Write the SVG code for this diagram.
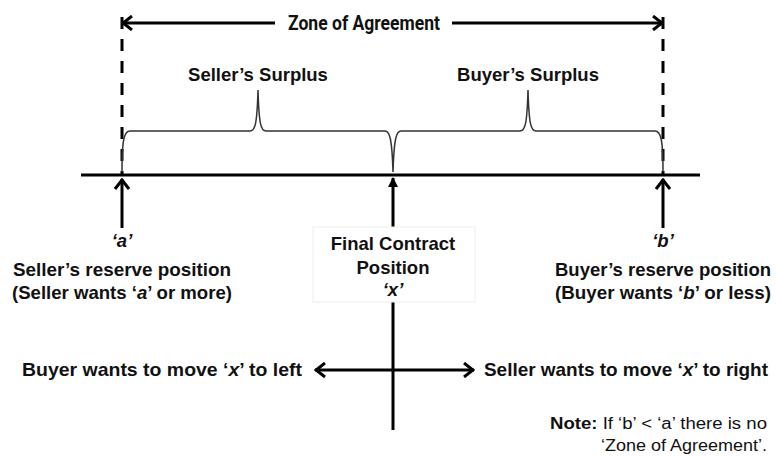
<svg xmlns="http://www.w3.org/2000/svg" width="776" height="457" viewBox="0 0 776 457">
<style>
.lbl{font-family:"Liberation Sans",Arial,sans-serif;font-weight:bold;font-size:18.5px;fill:#111;text-anchor:middle}
.zone{font-family:Roboto,"Liberation Sans",sans-serif;font-weight:bold;font-size:20px;fill:#111;text-anchor:middle}
.note{font-family:"Liberation Sans",Arial,sans-serif;font-size:16px;fill:#111;text-anchor:end}
.ln{stroke:#000;stroke-width:3;fill:none}
.dash{stroke:#000;stroke-width:3;stroke-dasharray:12 10;fill:none}
.brace{stroke:#333;stroke-width:1.5;fill:none}
</style>
<defs>
<marker id="chev" viewBox="0 0 12 16" refX="11" refY="8" markerWidth="12" markerHeight="16" markerUnits="userSpaceOnUse" orient="auto-start-reverse">
<path d="M1,1 L10,8 L1,15" fill="none" stroke="#000" stroke-width="3"/>
</marker>
<marker id="tri" viewBox="0 0 10 10" refX="9" refY="5" markerWidth="10" markerHeight="10" markerUnits="userSpaceOnUse" orient="auto">
<path d="M0,0 L10,5 L0,10 Z" fill="#000"/>
</marker>
</defs>
<rect width="776" height="457" fill="#fff"/>
<g id="connectors">
<line class="ln" x1="81" y1="175" x2="700" y2="175"/>
<line class="dash" x1="122" y1="17" x2="122" y2="174"/>
<line class="dash" x1="663" y1="17" x2="663" y2="174"/>
<line class="ln" x1="122" y1="23" x2="275" y2="23" marker-start="url(#chev)"/>
<line class="ln" x1="452" y1="23" x2="663" y2="23" marker-end="url(#chev)"/>
<line class="ln" x1="122" y1="228" x2="122" y2="179" marker-end="url(#chev)"/>
<line class="ln" x1="663" y1="228" x2="663" y2="179" marker-end="url(#chev)"/>
<line class="ln" x1="393" y1="227" x2="393" y2="178" marker-end="url(#tri)"/>
<line class="ln" x1="393" y1="302" x2="393" y2="430"/>
<line class="ln" x1="315" y1="370" x2="474" y2="370" marker-start="url(#chev)" marker-end="url(#chev)"/>
<path class="brace" d="M122,172 C122,140 124,131 130,131 L250,131 C255,131 257,125 258,90 C259,125 261,131 266,131 L385,131 C390,131 392,140 393,172 C394,140 396,131 401,131 L520,131 C525,131 527,125 528,90 C529,125 531,131 536,131 L655,131 C661,131 663,140 663,172"/>
</g>
<g id="zone">
<text class="zone" x="364" y="30" textLength="152" lengthAdjust="spacingAndGlyphs">Zone of Agreement</text>
</g>
<g id="seller-surplus">
<text class="lbl" x="258" y="81">Seller’s Surplus</text>
</g>
<g id="buyer-surplus">
<text class="lbl" x="528" y="81">Buyer’s Surplus</text>
</g>
<g id="seller-reserve">
<text class="lbl" x="122" y="247" font-style="italic">‘a’</text>
<text class="lbl" x="122" y="276" textLength="218" lengthAdjust="spacingAndGlyphs">Seller’s reserve position</text>
<text class="lbl" x="122" y="299" textLength="220" lengthAdjust="spacingAndGlyphs">(Seller wants ‘<tspan font-style="italic">a</tspan>’ or more)</text>
</g>
<g id="final-contract">
<rect x="313" y="227" width="162" height="75" fill="#fff" stroke="#eee" stroke-width="1"/>
<text class="lbl" x="393" y="250">Final Contract</text>
<text class="lbl" x="393" y="274">Position</text>
<text class="lbl" x="393" y="296" font-style="italic">‘x’</text>
</g>
<g id="buyer-reserve">
<text class="lbl" x="663" y="247" font-style="italic">‘b’</text>
<text class="lbl" x="663" y="276" textLength="216" lengthAdjust="spacingAndGlyphs">Buyer’s reserve position</text>
<text class="lbl" x="663" y="299" textLength="216" lengthAdjust="spacingAndGlyphs">(Buyer wants ‘<tspan font-style="italic">b</tspan>’ or less)</text>
</g>
<g id="buyer-move">
<text class="lbl" x="22" y="376" style="text-anchor:start" textLength="280" lengthAdjust="spacingAndGlyphs">Buyer wants to move ‘<tspan font-style="italic">x</tspan>’ to left</text>
</g>
<g id="seller-move">
<text class="lbl" x="484" y="376" style="text-anchor:start" textLength="284" lengthAdjust="spacingAndGlyphs">Seller wants to move ‘<tspan font-style="italic">x</tspan>’ to right</text>
</g>
<g id="note">
<text class="note" x="550" y="429" style="text-anchor:start" textLength="217" lengthAdjust="spacingAndGlyphs"><tspan font-weight="bold">Note:</tspan> If ‘b’ &lt; ‘a’ there is no</text>
<text class="note" x="601" y="451" style="text-anchor:start" textLength="166" lengthAdjust="spacingAndGlyphs">‘Zone of Agreement’.</text>
</g>
</svg>
